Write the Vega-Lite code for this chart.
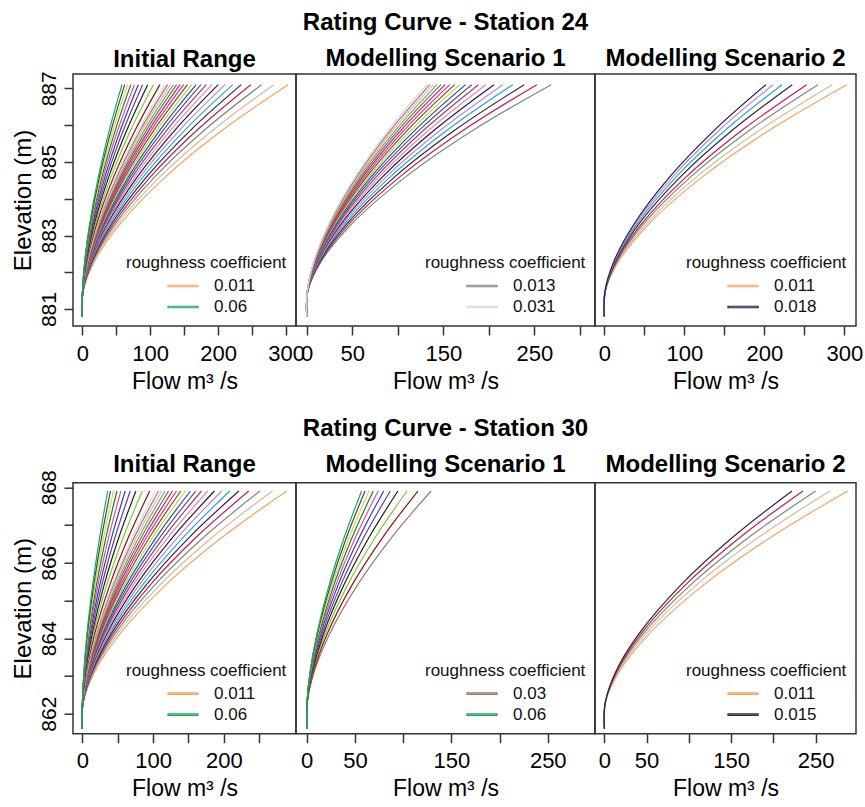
{
"$schema":"https://vega.github.io/schema/vega-lite/v6.json",
"padding":{"left":10,"top":9,"right":5,"bottom":5},
"columns":3,
"spacing":{"row":156.7,"column":0},
"bounds":"flush",
"resolve":{"legend":{"color":"independent"}},
"config":{
"font":"Liberation Sans",
"view":{"stroke":"#333","strokeWidth":1.5},
"range":{"category":["#F6A35C","#CDBBA7","#7E8A72","#C4195B","#2E2A2B","#27A4DD","#C585C2","#1F1D4F","#F08C84","#8A3FB0","#5A5A5A","#2548D0","#B2E02A","#8B4A1C","#D12FC9","#E0221F","#2C8C8A","#A39A3C","#F2A7C6","#A07868","#C8DFDA","#8E1111","#79CC2E","#1E1E1E","#6C3A9C","#2E3FBA","#E0558A","#1F7A3E","#C8DE3E","#3A4A4A","#1FA85E"]},
"axis":{"domain":false,"grid":false,"tickColor":"#333","tickWidth":1.5,"tickSize":9,"labelFont":"Liberation Sans","labelFontSize":22,"labelColor":"#000","titleFont":"Liberation Sans","titleFontSize":23,"titleFontWeight":"normal","titleColor":"#000","labelOverlap":false,"labelFlush":false},
"axisX":{"labelPadding":8,"titlePadding":6},
"axisY":{"labelAngle":-90,"labelAlign":"center","labelBaseline":"alphabetic","labelPadding":9,"labelFont":"Liberation Sans Narrow, Liberation Sans","labelFontSize":21,"titleFontSize":24,"titlePadding":3},
"title":{"font":"Liberation Sans","fontSize":24,"fontWeight":"bold","color":"#000","baseline":"alphabetic","lineHeight":36,"anchor":"middle","frame":"group"},
"legend":{"orient":"bottom-right","offset":9,"padding":0,"titleFont":"Liberation Sans","titleFontSize":17,"titleFontWeight":"normal","titleColor":"#111","titlePadding":4,"labelFont":"Liberation Sans","labelFontSize":17,"labelColor":"#111","symbolType":"M-1,-0.05H1V0.05H-1Z","symbolSize":900,"symbolStrokeWidth":1.5,"clipHeight":20,"rowPadding":1,"symbolOffset":41,"labelOffset":15},
"line":{"strokeWidth":1.2,"interpolate":"catmull-rom","clip":true}
},
"datasets":{
"a1":[
{"n":0.011,"q":0,"e":880.8},{"n":0.011,"q":1.5,"e":881.5},{"n":0.011,"q":18.2,"e":882.3},{"n":0.011,"q":55.1,"e":883.3},{"n":0.011,"q":123,"e":884.6},{"n":0.011,"q":209.1,"e":885.9},{"n":0.011,"q":303,"e":887.1},
{"n":0.012,"q":0,"e":880.8},{"n":0.012,"q":1.4,"e":881.5},{"n":0.012,"q":16.9,"e":882.3},{"n":0.012,"q":51.3,"e":883.3},{"n":0.012,"q":114.5,"e":884.6},{"n":0.012,"q":194.6,"e":885.9},{"n":0.012,"q":282.1,"e":887.1},
{"n":0.013,"q":0,"e":880.8},{"n":0.013,"q":1.3,"e":881.5},{"n":0.013,"q":15.8,"e":882.3},{"n":0.013,"q":48,"e":883.3},{"n":0.013,"q":107.1,"e":884.6},{"n":0.013,"q":182.1,"e":885.9},{"n":0.013,"q":263.9,"e":887.1},
{"n":0.014,"q":0,"e":880.8},{"n":0.014,"q":1.2,"e":881.5},{"n":0.014,"q":14.9,"e":882.3},{"n":0.014,"q":45.2,"e":883.3},{"n":0.014,"q":100.7,"e":884.6},{"n":0.014,"q":171.2,"e":885.9},{"n":0.014,"q":248.1,"e":887.1},
{"n":0.015,"q":0,"e":880.8},{"n":0.015,"q":1.2,"e":881.5},{"n":0.015,"q":14,"e":882.3},{"n":0.015,"q":42.6,"e":883.3},{"n":0.015,"q":95,"e":884.6},{"n":0.015,"q":161.5,"e":885.9},{"n":0.015,"q":234.1,"e":887.1},
{"n":0.016,"q":0,"e":880.8},{"n":0.016,"q":1.1,"e":881.5},{"n":0.016,"q":13.3,"e":882.3},{"n":0.016,"q":40.3,"e":883.3},{"n":0.016,"q":90,"e":884.6},{"n":0.016,"q":152.9,"e":885.9},{"n":0.016,"q":221.6,"e":887.1},
{"n":0.017,"q":0,"e":880.8},{"n":0.017,"q":1.1,"e":881.5},{"n":0.017,"q":12.6,"e":882.3},{"n":0.017,"q":38.3,"e":883.3},{"n":0.017,"q":85.4,"e":884.6},{"n":0.017,"q":145.1,"e":885.9},{"n":0.017,"q":210.3,"e":887.1},
{"n":0.018,"q":0,"e":880.8},{"n":0.018,"q":1,"e":881.5},{"n":0.018,"q":12,"e":882.3},{"n":0.018,"q":36.4,"e":883.3},{"n":0.018,"q":81.3,"e":884.6},{"n":0.018,"q":138.1,"e":885.9},{"n":0.018,"q":200.2,"e":887.1},
{"n":0.019,"q":0,"e":880.8},{"n":0.019,"q":1,"e":881.5},{"n":0.019,"q":11.5,"e":882.3},{"n":0.019,"q":34.8,"e":883.3},{"n":0.019,"q":77.5,"e":884.6},{"n":0.019,"q":131.8,"e":885.9},{"n":0.019,"q":191,"e":887.1},
{"n":0.02,"q":0,"e":880.8},{"n":0.02,"q":0.9,"e":881.5},{"n":0.02,"q":11,"e":882.3},{"n":0.02,"q":33.2,"e":883.3},{"n":0.02,"q":74.1,"e":884.6},{"n":0.02,"q":126,"e":885.9},{"n":0.02,"q":182.6,"e":887.1},
{"n":0.021,"q":0,"e":880.8},{"n":0.021,"q":0.9,"e":881.5},{"n":0.021,"q":10.5,"e":882.3},{"n":0.021,"q":31.8,"e":883.3},{"n":0.021,"q":71,"e":884.6},{"n":0.021,"q":120.6,"e":885.9},{"n":0.021,"q":174.8,"e":887.1},
{"n":0.022,"q":0,"e":880.8},{"n":0.022,"q":0.8,"e":881.5},{"n":0.022,"q":10.1,"e":882.3},{"n":0.022,"q":30.5,"e":883.3},{"n":0.022,"q":68.1,"e":884.6},{"n":0.022,"q":115.7,"e":885.9},{"n":0.022,"q":167.7,"e":887.1},
{"n":0.023,"q":0,"e":880.8},{"n":0.023,"q":0.8,"e":881.5},{"n":0.023,"q":9.7,"e":882.3},{"n":0.023,"q":29.3,"e":883.3},{"n":0.023,"q":65.4,"e":884.6},{"n":0.023,"q":111.2,"e":885.9},{"n":0.023,"q":161.1,"e":887.1},
{"n":0.024,"q":0,"e":880.8},{"n":0.024,"q":0.8,"e":881.5},{"n":0.024,"q":9.3,"e":882.3},{"n":0.024,"q":28.2,"e":883.3},{"n":0.024,"q":62.9,"e":884.6},{"n":0.024,"q":106.9,"e":885.9},{"n":0.024,"q":154.9,"e":887.1},
{"n":0.025,"q":0,"e":880.8},{"n":0.025,"q":0.7,"e":881.5},{"n":0.025,"q":9,"e":882.3},{"n":0.025,"q":27.2,"e":883.3},{"n":0.025,"q":60.6,"e":884.6},{"n":0.025,"q":102.9,"e":885.9},{"n":0.025,"q":149.2,"e":887.1},
{"n":0.026,"q":0,"e":880.8},{"n":0.026,"q":0.7,"e":881.5},{"n":0.026,"q":8.6,"e":882.3},{"n":0.026,"q":26.2,"e":883.3},{"n":0.026,"q":58.4,"e":884.6},{"n":0.026,"q":99.3,"e":885.9},{"n":0.026,"q":143.9,"e":887.1},
{"n":0.027,"q":0,"e":880.8},{"n":0.027,"q":0.7,"e":881.5},{"n":0.027,"q":8.3,"e":882.3},{"n":0.027,"q":25.3,"e":883.3},{"n":0.027,"q":56.4,"e":884.6},{"n":0.027,"q":95.8,"e":885.9},{"n":0.027,"q":138.9,"e":887.1},
{"n":0.028,"q":0,"e":880.8},{"n":0.028,"q":0.7,"e":881.5},{"n":0.028,"q":8.1,"e":882.3},{"n":0.028,"q":24.4,"e":883.3},{"n":0.028,"q":54.5,"e":884.6},{"n":0.028,"q":92.6,"e":885.9},{"n":0.028,"q":134.2,"e":887.1},
{"n":0.029,"q":0,"e":880.8},{"n":0.029,"q":0.6,"e":881.5},{"n":0.029,"q":7.8,"e":882.3},{"n":0.029,"q":23.6,"e":883.3},{"n":0.029,"q":52.7,"e":884.6},{"n":0.029,"q":89.5,"e":885.9},{"n":0.029,"q":129.7,"e":887.1},
{"n":0.03,"q":0,"e":880.8},{"n":0.03,"q":0.6,"e":881.5},{"n":0.03,"q":7.5,"e":882.3},{"n":0.03,"q":22.8,"e":883.3},{"n":0.03,"q":51,"e":884.6},{"n":0.03,"q":86.6,"e":885.9},{"n":0.03,"q":125.5,"e":887.1},
{"n":0.031,"q":0,"e":880.8},{"n":0.031,"q":0.6,"e":881.5},{"n":0.031,"q":7.3,"e":882.3},{"n":0.031,"q":22.1,"e":883.3},{"n":0.031,"q":49.4,"e":884.6},{"n":0.031,"q":83.9,"e":885.9},{"n":0.031,"q":121.6,"e":887.1},
{"n":0.033,"q":0,"e":880.8},{"n":0.033,"q":0.6,"e":881.5},{"n":0.033,"q":6.9,"e":882.3},{"n":0.033,"q":20.8,"e":883.3},{"n":0.033,"q":46.4,"e":884.6},{"n":0.033,"q":78.9,"e":885.9},{"n":0.033,"q":114.3,"e":887.1},
{"n":0.036,"q":0,"e":880.8},{"n":0.036,"q":0.5,"e":881.5},{"n":0.036,"q":6.3,"e":882.3},{"n":0.036,"q":19.1,"e":883.3},{"n":0.036,"q":42.5,"e":884.6},{"n":0.036,"q":72.2,"e":885.9},{"n":0.036,"q":104.7,"e":887.1},
{"n":0.039,"q":0,"e":880.8},{"n":0.039,"q":0.5,"e":881.5},{"n":0.039,"q":5.8,"e":882.3},{"n":0.039,"q":17.5,"e":883.3},{"n":0.039,"q":39.1,"e":884.6},{"n":0.039,"q":66.4,"e":885.9},{"n":0.039,"q":96.3,"e":887.1},
{"n":0.042,"q":0,"e":880.8},{"n":0.042,"q":0.4,"e":881.5},{"n":0.042,"q":5.3,"e":882.3},{"n":0.042,"q":16.2,"e":883.3},{"n":0.042,"q":36.1,"e":884.6},{"n":0.042,"q":61.3,"e":885.9},{"n":0.042,"q":88.9,"e":887.1},
{"n":0.045,"q":0,"e":880.8},{"n":0.045,"q":0.4,"e":881.5},{"n":0.045,"q":4.9,"e":882.3},{"n":0.045,"q":15,"e":883.3},{"n":0.045,"q":33.5,"e":884.6},{"n":0.045,"q":56.9,"e":885.9},{"n":0.045,"q":82.4,"e":887.1},
{"n":0.048,"q":0,"e":880.8},{"n":0.048,"q":0.4,"e":881.5},{"n":0.048,"q":4.6,"e":882.3},{"n":0.048,"q":13.9,"e":883.3},{"n":0.048,"q":31.1,"e":884.6},{"n":0.048,"q":52.9,"e":885.9},{"n":0.048,"q":76.6,"e":887.1},
{"n":0.051,"q":0,"e":880.8},{"n":0.051,"q":0.4,"e":881.5},{"n":0.051,"q":4.3,"e":882.3},{"n":0.051,"q":13,"e":883.3},{"n":0.051,"q":29,"e":884.6},{"n":0.051,"q":49.3,"e":885.9},{"n":0.051,"q":71.4,"e":887.1},
{"n":0.054,"q":0,"e":880.8},{"n":0.054,"q":0.3,"e":881.5},{"n":0.054,"q":4,"e":882.3},{"n":0.054,"q":12.1,"e":883.3},{"n":0.054,"q":27.1,"e":884.6},{"n":0.054,"q":46,"e":885.9},{"n":0.054,"q":66.7,"e":887.1},
{"n":0.057,"q":0,"e":880.8},{"n":0.057,"q":0.3,"e":881.5},{"n":0.057,"q":3.7,"e":882.3},{"n":0.057,"q":11.4,"e":883.3},{"n":0.057,"q":25.3,"e":884.6},{"n":0.057,"q":43.1,"e":885.9},{"n":0.057,"q":62.4,"e":887.1},
{"n":0.06,"q":0,"e":880.8},{"n":0.06,"q":0.3,"e":881.5},{"n":0.06,"q":3.5,"e":882.3},{"n":0.06,"q":10.6,"e":883.3},{"n":0.06,"q":23.7,"e":884.6},{"n":0.06,"q":40.3,"e":885.9},{"n":0.06,"q":58.4,"e":887.1}
],
"a2":[
{"n":0.013,"q":0,"e":880.8},{"n":0.013,"q":1.3,"e":881.5},{"n":0.013,"q":16.1,"e":882.3},{"n":0.013,"q":48.9,"e":883.3},{"n":0.013,"q":109.1,"e":884.6},{"n":0.013,"q":185.3,"e":885.9},{"n":0.013,"q":268.6,"e":887.1},
{"n":0.014,"q":0,"e":880.8},{"n":0.014,"q":1.3,"e":881.5},{"n":0.014,"q":15.2,"e":882.3},{"n":0.014,"q":46,"e":883.3},{"n":0.014,"q":102.6,"e":884.6},{"n":0.014,"q":174.4,"e":885.9},{"n":0.014,"q":252.8,"e":887.1},
{"n":0.015,"q":0,"e":880.8},{"n":0.015,"q":1.2,"e":881.5},{"n":0.015,"q":14.3,"e":882.3},{"n":0.015,"q":43.5,"e":883.3},{"n":0.015,"q":97,"e":884.6},{"n":0.015,"q":164.8,"e":885.9},{"n":0.015,"q":238.9,"e":887.1},
{"n":0.016,"q":0,"e":880.8},{"n":0.016,"q":1.1,"e":881.5},{"n":0.016,"q":13.6,"e":882.3},{"n":0.016,"q":41.2,"e":883.3},{"n":0.016,"q":92,"e":884.6},{"n":0.016,"q":156.3,"e":885.9},{"n":0.016,"q":226.5,"e":887.1},
{"n":0.017,"q":0,"e":880.8},{"n":0.017,"q":1.1,"e":881.5},{"n":0.017,"q":12.9,"e":882.3},{"n":0.017,"q":39.2,"e":883.3},{"n":0.017,"q":87.5,"e":884.6},{"n":0.017,"q":148.8,"e":885.9},{"n":0.017,"q":215.6,"e":887.1},
{"n":0.018,"q":0,"e":880.8},{"n":0.018,"q":1,"e":881.5},{"n":0.018,"q":12.3,"e":882.3},{"n":0.018,"q":37.4,"e":883.3},{"n":0.018,"q":83.5,"e":884.6},{"n":0.018,"q":141.9,"e":885.9},{"n":0.018,"q":205.7,"e":887.1},
{"n":0.019,"q":0,"e":880.8},{"n":0.019,"q":1,"e":881.5},{"n":0.019,"q":11.8,"e":882.3},{"n":0.019,"q":35.8,"e":883.3},{"n":0.019,"q":79.9,"e":884.6},{"n":0.019,"q":135.8,"e":885.9},{"n":0.019,"q":196.8,"e":887.1},
{"n":0.02,"q":0,"e":880.8},{"n":0.02,"q":0.9,"e":881.5},{"n":0.02,"q":11.3,"e":882.3},{"n":0.02,"q":34.3,"e":883.3},{"n":0.02,"q":76.6,"e":884.6},{"n":0.02,"q":130.2,"e":885.9},{"n":0.02,"q":188.7,"e":887.1},
{"n":0.021,"q":0,"e":880.8},{"n":0.021,"q":0.9,"e":881.5},{"n":0.021,"q":10.9,"e":882.3},{"n":0.021,"q":33,"e":883.3},{"n":0.021,"q":73.6,"e":884.6},{"n":0.021,"q":125.1,"e":885.9},{"n":0.021,"q":181.3,"e":887.1},
{"n":0.022,"q":0,"e":880.8},{"n":0.022,"q":0.9,"e":881.5},{"n":0.022,"q":10.5,"e":882.3},{"n":0.022,"q":31.8,"e":883.3},{"n":0.022,"q":70.8,"e":884.6},{"n":0.022,"q":120.4,"e":885.9},{"n":0.022,"q":174.5,"e":887.1},
{"n":0.023,"q":0,"e":880.8},{"n":0.023,"q":0.8,"e":881.5},{"n":0.023,"q":10.1,"e":882.3},{"n":0.023,"q":30.6,"e":883.3},{"n":0.023,"q":68.3,"e":884.6},{"n":0.023,"q":116.1,"e":885.9},{"n":0.023,"q":168.3,"e":887.1},
{"n":0.024,"q":0,"e":880.8},{"n":0.024,"q":0.8,"e":881.5},{"n":0.024,"q":9.8,"e":882.3},{"n":0.024,"q":29.6,"e":883.3},{"n":0.024,"q":66,"e":884.6},{"n":0.024,"q":112.1,"e":885.9},{"n":0.024,"q":162.5,"e":887.1},
{"n":0.025,"q":0,"e":880.8},{"n":0.025,"q":0.8,"e":881.5},{"n":0.025,"q":9.4,"e":882.3},{"n":0.025,"q":28.6,"e":883.3},{"n":0.025,"q":63.8,"e":884.6},{"n":0.025,"q":108.4,"e":885.9},{"n":0.025,"q":157.1,"e":887.1},
{"n":0.026,"q":0,"e":880.8},{"n":0.026,"q":0.8,"e":881.5},{"n":0.026,"q":9.1,"e":882.3},{"n":0.026,"q":27.7,"e":883.3},{"n":0.026,"q":61.8,"e":884.6},{"n":0.026,"q":104.9,"e":885.9},{"n":0.026,"q":152.1,"e":887.1},
{"n":0.027,"q":0,"e":880.8},{"n":0.027,"q":0.7,"e":881.5},{"n":0.027,"q":8.9,"e":882.3},{"n":0.027,"q":26.8,"e":883.3},{"n":0.027,"q":59.9,"e":884.6},{"n":0.027,"q":101.8,"e":885.9},{"n":0.027,"q":147.5,"e":887.1},
{"n":0.028,"q":0,"e":880.8},{"n":0.028,"q":0.7,"e":881.5},{"n":0.028,"q":8.6,"e":882.3},{"n":0.028,"q":26.1,"e":883.3},{"n":0.028,"q":58.1,"e":884.6},{"n":0.028,"q":98.8,"e":885.9},{"n":0.028,"q":143.2,"e":887.1},
{"n":0.029,"q":0,"e":880.8},{"n":0.029,"q":0.7,"e":881.5},{"n":0.029,"q":8.3,"e":882.3},{"n":0.029,"q":25.3,"e":883.3},{"n":0.029,"q":56.5,"e":884.6},{"n":0.029,"q":96,"e":885.9},{"n":0.029,"q":139.1,"e":887.1},
{"n":0.03,"q":0,"e":880.8},{"n":0.03,"q":0.7,"e":881.5},{"n":0.03,"q":8.1,"e":882.3},{"n":0.03,"q":24.6,"e":883.3},{"n":0.03,"q":54.9,"e":884.6},{"n":0.03,"q":93.4,"e":885.9},{"n":0.03,"q":135.3,"e":887.1},
{"n":0.031,"q":0,"e":880.8},{"n":0.031,"q":0.7,"e":881.5},{"n":0.031,"q":7.9,"e":882.3},{"n":0.031,"q":24,"e":883.3},{"n":0.031,"q":53.5,"e":884.6},{"n":0.031,"q":90.9,"e":885.9},{"n":0.031,"q":131.7,"e":887.1}
],
"a3":[
{"n":0.011,"q":0,"e":880.8},{"n":0.011,"q":1.5,"e":881.5},{"n":0.011,"q":18.2,"e":882.3},{"n":0.011,"q":55.1,"e":883.3},{"n":0.011,"q":123,"e":884.6},{"n":0.011,"q":209.1,"e":885.9},{"n":0.011,"q":303,"e":887.1},
{"n":0.012,"q":0,"e":880.8},{"n":0.012,"q":1.4,"e":881.5},{"n":0.012,"q":17.1,"e":882.3},{"n":0.012,"q":51.9,"e":883.3},{"n":0.012,"q":115.7,"e":884.6},{"n":0.012,"q":196.7,"e":885.9},{"n":0.012,"q":285,"e":887.1},
{"n":0.013,"q":0,"e":880.8},{"n":0.013,"q":1.3,"e":881.5},{"n":0.013,"q":16,"e":882.3},{"n":0.013,"q":48.6,"e":883.3},{"n":0.013,"q":108.4,"e":884.6},{"n":0.013,"q":184.2,"e":885.9},{"n":0.013,"q":267,"e":887.1},
{"n":0.014,"q":0,"e":880.8},{"n":0.014,"q":1.3,"e":881.5},{"n":0.014,"q":15.2,"e":882.3},{"n":0.014,"q":46,"e":883.3},{"n":0.014,"q":102.7,"e":884.6},{"n":0.014,"q":174.6,"e":885.9},{"n":0.014,"q":253,"e":887.1},
{"n":0.015,"q":0,"e":880.8},{"n":0.015,"q":1.2,"e":881.5},{"n":0.015,"q":14.1,"e":882.3},{"n":0.015,"q":42.8,"e":883.3},{"n":0.015,"q":95.4,"e":884.6},{"n":0.015,"q":162.2,"e":885.9},{"n":0.015,"q":235,"e":887.1},
{"n":0.016,"q":0,"e":880.8},{"n":0.016,"q":1.1,"e":881.5},{"n":0.016,"q":13.3,"e":882.3},{"n":0.016,"q":40.4,"e":883.3},{"n":0.016,"q":90.1,"e":884.6},{"n":0.016,"q":153.2,"e":885.9},{"n":0.016,"q":222,"e":887.1},
{"n":0.017,"q":0,"e":880.8},{"n":0.017,"q":1.1,"e":881.5},{"n":0.017,"q":12.7,"e":882.3},{"n":0.017,"q":38.4,"e":883.3},{"n":0.017,"q":85.7,"e":884.6},{"n":0.017,"q":145.6,"e":885.9},{"n":0.017,"q":211,"e":887.1},
{"n":0.018,"q":0,"e":880.8},{"n":0.018,"q":1,"e":881.5},{"n":0.018,"q":12.1,"e":882.3},{"n":0.018,"q":36.8,"e":883.3},{"n":0.018,"q":82,"e":884.6},{"n":0.018,"q":139.4,"e":885.9},{"n":0.018,"q":202,"e":887.1}
],
"b1":[
{"n":0.011,"q":0,"e":861.6},{"n":0.011,"q":1.4,"e":862.3},{"n":0.011,"q":17.3,"e":863.1},{"n":0.011,"q":52.6,"e":864.1},{"n":0.011,"q":117.3,"e":865.4},{"n":0.011,"q":199.4,"e":866.7},{"n":0.011,"q":289,"e":867.9},
{"n":0.012,"q":0,"e":861.6},{"n":0.012,"q":1.3,"e":862.3},{"n":0.012,"q":16.1,"e":863.1},{"n":0.012,"q":48.9,"e":864.1},{"n":0.012,"q":109.1,"e":865.4},{"n":0.012,"q":185.4,"e":866.7},{"n":0.012,"q":268.7,"e":867.9},
{"n":0.013,"q":0,"e":861.6},{"n":0.013,"q":1.3,"e":862.3},{"n":0.013,"q":15.1,"e":863.1},{"n":0.013,"q":45.7,"e":864.1},{"n":0.013,"q":101.9,"e":865.4},{"n":0.013,"q":173.1,"e":866.7},{"n":0.013,"q":250.9,"e":867.9},
{"n":0.014,"q":0,"e":861.6},{"n":0.014,"q":1.2,"e":862.3},{"n":0.014,"q":14.1,"e":863.1},{"n":0.014,"q":42.8,"e":864.1},{"n":0.014,"q":95.5,"e":865.4},{"n":0.014,"q":162.3,"e":866.7},{"n":0.014,"q":235.2,"e":867.9},
{"n":0.015,"q":0,"e":861.6},{"n":0.015,"q":1.1,"e":862.3},{"n":0.015,"q":13.3,"e":863.1},{"n":0.015,"q":40.2,"e":864.1},{"n":0.015,"q":89.8,"e":865.4},{"n":0.015,"q":152.6,"e":866.7},{"n":0.015,"q":221.1,"e":867.9},
{"n":0.016,"q":0,"e":861.6},{"n":0.016,"q":1,"e":862.3},{"n":0.016,"q":12.5,"e":863.1},{"n":0.016,"q":37.9,"e":864.1},{"n":0.016,"q":84.7,"e":865.4},{"n":0.016,"q":143.9,"e":866.7},{"n":0.016,"q":208.5,"e":867.9},
{"n":0.017,"q":0,"e":861.6},{"n":0.017,"q":1,"e":862.3},{"n":0.017,"q":11.8,"e":863.1},{"n":0.017,"q":35.9,"e":864.1},{"n":0.017,"q":80,"e":865.4},{"n":0.017,"q":136,"e":866.7},{"n":0.017,"q":197.1,"e":867.9},
{"n":0.018,"q":0,"e":861.6},{"n":0.018,"q":0.9,"e":862.3},{"n":0.018,"q":11.2,"e":863.1},{"n":0.018,"q":34,"e":864.1},{"n":0.018,"q":75.8,"e":865.4},{"n":0.018,"q":128.8,"e":866.7},{"n":0.018,"q":186.7,"e":867.9},
{"n":0.019,"q":0,"e":861.6},{"n":0.019,"q":0.9,"e":862.3},{"n":0.019,"q":10.6,"e":863.1},{"n":0.019,"q":32.3,"e":864.1},{"n":0.019,"q":71.9,"e":865.4},{"n":0.019,"q":122.3,"e":866.7},{"n":0.019,"q":177.2,"e":867.9},
{"n":0.02,"q":0,"e":861.6},{"n":0.02,"q":0.8,"e":862.3},{"n":0.02,"q":10.1,"e":863.1},{"n":0.02,"q":30.6,"e":864.1},{"n":0.02,"q":68.4,"e":865.4},{"n":0.02,"q":116.2,"e":866.7},{"n":0.02,"q":168.4,"e":867.9},
{"n":0.021,"q":0,"e":861.6},{"n":0.021,"q":0.8,"e":862.3},{"n":0.021,"q":9.6,"e":863.1},{"n":0.021,"q":29.2,"e":864.1},{"n":0.021,"q":65.1,"e":865.4},{"n":0.021,"q":110.6,"e":866.7},{"n":0.021,"q":160.3,"e":867.9},
{"n":0.022,"q":0,"e":861.6},{"n":0.022,"q":0.8,"e":862.3},{"n":0.022,"q":9.2,"e":863.1},{"n":0.022,"q":27.8,"e":864.1},{"n":0.022,"q":62,"e":865.4},{"n":0.022,"q":105.4,"e":866.7},{"n":0.022,"q":152.8,"e":867.9},
{"n":0.023,"q":0,"e":861.6},{"n":0.023,"q":0.7,"e":862.3},{"n":0.023,"q":8.7,"e":863.1},{"n":0.023,"q":26.5,"e":864.1},{"n":0.023,"q":59.2,"e":865.4},{"n":0.023,"q":100.5,"e":866.7},{"n":0.023,"q":145.7,"e":867.9},
{"n":0.024,"q":0,"e":861.6},{"n":0.024,"q":0.7,"e":862.3},{"n":0.024,"q":8.4,"e":863.1},{"n":0.024,"q":25.3,"e":864.1},{"n":0.024,"q":56.5,"e":865.4},{"n":0.024,"q":96,"e":866.7},{"n":0.024,"q":139.2,"e":867.9},
{"n":0.025,"q":0,"e":861.6},{"n":0.025,"q":0.7,"e":862.3},{"n":0.025,"q":8,"e":863.1},{"n":0.025,"q":24.2,"e":864.1},{"n":0.025,"q":54,"e":865.4},{"n":0.025,"q":91.8,"e":866.7},{"n":0.025,"q":133.1,"e":867.9},
{"n":0.026,"q":0,"e":861.6},{"n":0.026,"q":0.6,"e":862.3},{"n":0.026,"q":7.6,"e":863.1},{"n":0.026,"q":23.2,"e":864.1},{"n":0.026,"q":51.7,"e":865.4},{"n":0.026,"q":87.9,"e":866.7},{"n":0.026,"q":127.4,"e":867.9},
{"n":0.027,"q":0,"e":861.6},{"n":0.027,"q":0.6,"e":862.3},{"n":0.027,"q":7.3,"e":863.1},{"n":0.027,"q":22.2,"e":864.1},{"n":0.027,"q":49.5,"e":865.4},{"n":0.027,"q":84.2,"e":866.7},{"n":0.027,"q":122,"e":867.9},
{"n":0.028,"q":0,"e":861.6},{"n":0.028,"q":0.6,"e":862.3},{"n":0.028,"q":7,"e":863.1},{"n":0.028,"q":21.3,"e":864.1},{"n":0.028,"q":47.5,"e":865.4},{"n":0.028,"q":80.7,"e":866.7},{"n":0.028,"q":116.9,"e":867.9},
{"n":0.029,"q":0,"e":861.6},{"n":0.029,"q":0.6,"e":862.3},{"n":0.029,"q":6.7,"e":863.1},{"n":0.029,"q":20.4,"e":864.1},{"n":0.029,"q":45.5,"e":865.4},{"n":0.029,"q":77.3,"e":866.7},{"n":0.029,"q":112.1,"e":867.9},
{"n":0.03,"q":0,"e":861.6},{"n":0.03,"q":0.5,"e":862.3},{"n":0.03,"q":6.5,"e":863.1},{"n":0.03,"q":19.6,"e":864.1},{"n":0.03,"q":43.7,"e":865.4},{"n":0.03,"q":74.2,"e":866.7},{"n":0.03,"q":107.6,"e":867.9},
{"n":0.031,"q":0,"e":861.6},{"n":0.031,"q":0.5,"e":862.3},{"n":0.031,"q":6.2,"e":863.1},{"n":0.031,"q":18.8,"e":864.1},{"n":0.031,"q":41.9,"e":865.4},{"n":0.031,"q":71.3,"e":866.7},{"n":0.031,"q":103.3,"e":867.9},
{"n":0.033,"q":0,"e":861.6},{"n":0.033,"q":0.5,"e":862.3},{"n":0.033,"q":5.7,"e":863.1},{"n":0.033,"q":17.3,"e":864.1},{"n":0.033,"q":38.7,"e":865.4},{"n":0.033,"q":65.8,"e":866.7},{"n":0.033,"q":95.3,"e":867.9},
{"n":0.036,"q":0,"e":861.6},{"n":0.036,"q":0.4,"e":862.3},{"n":0.036,"q":5.1,"e":863.1},{"n":0.036,"q":15.4,"e":864.1},{"n":0.036,"q":34.4,"e":865.4},{"n":0.036,"q":58.5,"e":866.7},{"n":0.036,"q":84.8,"e":867.9},
{"n":0.039,"q":0,"e":861.6},{"n":0.039,"q":0.4,"e":862.3},{"n":0.039,"q":4.5,"e":863.1},{"n":0.039,"q":13.8,"e":864.1},{"n":0.039,"q":30.7,"e":865.4},{"n":0.039,"q":52.2,"e":866.7},{"n":0.039,"q":75.7,"e":867.9},
{"n":0.042,"q":0,"e":861.6},{"n":0.042,"q":0.3,"e":862.3},{"n":0.042,"q":4.1,"e":863.1},{"n":0.042,"q":12.3,"e":864.1},{"n":0.042,"q":27.5,"e":865.4},{"n":0.042,"q":46.7,"e":866.7},{"n":0.042,"q":67.7,"e":867.9},
{"n":0.045,"q":0,"e":861.6},{"n":0.045,"q":0.3,"e":862.3},{"n":0.045,"q":3.6,"e":863.1},{"n":0.045,"q":11,"e":864.1},{"n":0.045,"q":24.6,"e":865.4},{"n":0.045,"q":41.9,"e":866.7},{"n":0.045,"q":60.7,"e":867.9},
{"n":0.048,"q":0,"e":861.6},{"n":0.048,"q":0.3,"e":862.3},{"n":0.048,"q":3.3,"e":863.1},{"n":0.048,"q":9.9,"e":864.1},{"n":0.048,"q":22.1,"e":865.4},{"n":0.048,"q":37.6,"e":866.7},{"n":0.048,"q":54.5,"e":867.9},
{"n":0.051,"q":0,"e":861.6},{"n":0.051,"q":0.2,"e":862.3},{"n":0.051,"q":2.9,"e":863.1},{"n":0.051,"q":8.9,"e":864.1},{"n":0.051,"q":19.9,"e":865.4},{"n":0.051,"q":33.8,"e":866.7},{"n":0.051,"q":49,"e":867.9},
{"n":0.054,"q":0,"e":861.6},{"n":0.054,"q":0.2,"e":862.3},{"n":0.054,"q":2.6,"e":863.1},{"n":0.054,"q":8,"e":864.1},{"n":0.054,"q":17.9,"e":865.4},{"n":0.054,"q":30.4,"e":866.7},{"n":0.054,"q":44.1,"e":867.9},
{"n":0.057,"q":0,"e":861.6},{"n":0.057,"q":0.2,"e":862.3},{"n":0.057,"q":2.4,"e":863.1},{"n":0.057,"q":7.2,"e":864.1},{"n":0.057,"q":16.2,"e":865.4},{"n":0.057,"q":27.5,"e":866.7},{"n":0.057,"q":39.8,"e":867.9},
{"n":0.06,"q":0,"e":861.6},{"n":0.06,"q":0.2,"e":862.3},{"n":0.06,"q":2.2,"e":863.1},{"n":0.06,"q":6.5,"e":864.1},{"n":0.06,"q":14.6,"e":865.4},{"n":0.06,"q":24.8,"e":866.7},{"n":0.06,"q":35.9,"e":867.9}
],
"b2":[
{"n":0.03,"q":0,"e":861.6},{"n":0.03,"q":0.6,"e":862.3},{"n":0.03,"q":7.7,"e":863.1},{"n":0.03,"q":23.5,"e":864.1},{"n":0.03,"q":52.4,"e":865.4},{"n":0.03,"q":89,"e":866.7},{"n":0.03,"q":129,"e":867.9},
{"n":0.033,"q":0,"e":861.6},{"n":0.033,"q":0.6,"e":862.3},{"n":0.033,"q":6.9,"e":863.1},{"n":0.033,"q":21,"e":864.1},{"n":0.033,"q":46.8,"e":865.4},{"n":0.033,"q":79.6,"e":866.7},{"n":0.033,"q":115.3,"e":867.9},
{"n":0.036,"q":0,"e":861.6},{"n":0.036,"q":0.5,"e":862.3},{"n":0.036,"q":6.2,"e":863.1},{"n":0.036,"q":18.9,"e":864.1},{"n":0.036,"q":42.2,"e":865.4},{"n":0.036,"q":71.8,"e":866.7},{"n":0.036,"q":104,"e":867.9},
{"n":0.039,"q":0,"e":861.6},{"n":0.039,"q":0.5,"e":862.3},{"n":0.039,"q":5.7,"e":863.1},{"n":0.039,"q":17.2,"e":864.1},{"n":0.039,"q":38.4,"e":865.4},{"n":0.039,"q":65.3,"e":866.7},{"n":0.039,"q":94.6,"e":867.9},
{"n":0.042,"q":0,"e":861.6},{"n":0.042,"q":0.4,"e":862.3},{"n":0.042,"q":5.2,"e":863.1},{"n":0.042,"q":15.8,"e":864.1},{"n":0.042,"q":35.2,"e":865.4},{"n":0.042,"q":59.8,"e":866.7},{"n":0.042,"q":86.7,"e":867.9},
{"n":0.045,"q":0,"e":861.6},{"n":0.045,"q":0.4,"e":862.3},{"n":0.045,"q":4.8,"e":863.1},{"n":0.045,"q":14.5,"e":864.1},{"n":0.045,"q":32.4,"e":865.4},{"n":0.045,"q":55.1,"e":866.7},{"n":0.045,"q":79.9,"e":867.9},
{"n":0.048,"q":0,"e":861.6},{"n":0.048,"q":0.4,"e":862.3},{"n":0.048,"q":4.4,"e":863.1},{"n":0.048,"q":13.5,"e":864.1},{"n":0.048,"q":30.1,"e":865.4},{"n":0.048,"q":51.1,"e":866.7},{"n":0.048,"q":74.1,"e":867.9},
{"n":0.051,"q":0,"e":861.6},{"n":0.051,"q":0.3,"e":862.3},{"n":0.051,"q":4.1,"e":863.1},{"n":0.051,"q":12.6,"e":864.1},{"n":0.051,"q":28,"e":865.4},{"n":0.051,"q":47.6,"e":866.7},{"n":0.051,"q":69,"e":867.9},
{"n":0.054,"q":0,"e":861.6},{"n":0.054,"q":0.3,"e":862.3},{"n":0.054,"q":3.9,"e":863.1},{"n":0.054,"q":11.7,"e":864.1},{"n":0.054,"q":26.2,"e":865.4},{"n":0.054,"q":44.5,"e":866.7},{"n":0.054,"q":64.5,"e":867.9},
{"n":0.057,"q":0,"e":861.6},{"n":0.057,"q":0.3,"e":862.3},{"n":0.057,"q":3.6,"e":863.1},{"n":0.057,"q":11,"e":864.1},{"n":0.057,"q":24.6,"e":865.4},{"n":0.057,"q":41.7,"e":866.7},{"n":0.057,"q":60.5,"e":867.9},
{"n":0.06,"q":0,"e":861.6},{"n":0.06,"q":0.3,"e":862.3},{"n":0.06,"q":3.4,"e":863.1},{"n":0.06,"q":10.4,"e":864.1},{"n":0.06,"q":23.1,"e":865.4},{"n":0.06,"q":39.3,"e":866.7},{"n":0.06,"q":56.9,"e":867.9}
],
"b3":[
{"n":0.011,"q":0,"e":861.6},{"n":0.011,"q":1.4,"e":862.3},{"n":0.011,"q":17.3,"e":863.1},{"n":0.011,"q":52.4,"e":864.1},{"n":0.011,"q":116.9,"e":865.4},{"n":0.011,"q":198.7,"e":866.7},{"n":0.011,"q":288,"e":867.9},
{"n":0.012,"q":0,"e":861.6},{"n":0.012,"q":1.3,"e":862.3},{"n":0.012,"q":16,"e":863.1},{"n":0.012,"q":48.6,"e":864.1},{"n":0.012,"q":108.4,"e":865.4},{"n":0.012,"q":184.2,"e":866.7},{"n":0.012,"q":267,"e":867.9},
{"n":0.013,"q":0,"e":861.6},{"n":0.013,"q":1.3,"e":862.3},{"n":0.013,"q":15,"e":863.1},{"n":0.013,"q":45.5,"e":864.1},{"n":0.013,"q":101.5,"e":865.4},{"n":0.013,"q":172.5,"e":866.7},{"n":0.013,"q":250,"e":867.9},
{"n":0.014,"q":0,"e":861.6},{"n":0.014,"q":1.2,"e":862.3},{"n":0.014,"q":14.1,"e":863.1},{"n":0.014,"q":42.8,"e":864.1},{"n":0.014,"q":95.4,"e":865.4},{"n":0.014,"q":162.2,"e":866.7},{"n":0.014,"q":235,"e":867.9},
{"n":0.015,"q":0,"e":861.6},{"n":0.015,"q":1.1,"e":862.3},{"n":0.015,"q":13.3,"e":863.1},{"n":0.015,"q":40.4,"e":864.1},{"n":0.015,"q":90.1,"e":865.4},{"n":0.015,"q":153.2,"e":866.7},{"n":0.015,"q":222,"e":867.9}
]
},
"concat":[
{"width":223,"height":252,"title":{"text":"Initial Range","offset":-0.7},"data":{"name":"a1"},"mark":"line",
"encoding":{
"x":{"field":"q","type":"quantitative","scale":{"domain":[-13.7,314.7],"nice":false,"zero":false},"axis":{"title":"Flow m³ /s","values":[0,50,100,150,200,250,300],"labelExpr":"datum.value % 100 === 0 ? datum.label : ''"}},
"y":{"field":"e","type":"quantitative","scale":{"domain":[880.54,887.39],"nice":false,"zero":false},"axis":{"title":"Elevation (m)","values":[881,882,883,884,885,886,887],"labelExpr":"datum.value % 2 === 1 ? datum.label : ''"}},
"color":{"field":"n","type":"nominal","legend":{"title":"roughness coefficient","values":[0.011,0.06]}},
"order":{"field":"e","type":"quantitative"}}},
{"width":299,"height":252,"title":{"text":["Rating Curve - Station 24","Modelling Scenario 1"],"offset":3.3},"data":{"name":"a2"},"mark":"line",
"encoding":{
"x":{"field":"q","type":"quantitative","scale":{"domain":[-11.8,316.7],"nice":false,"zero":false},"axis":{"title":"Flow m³ /s","values":[0,50,100,150,200,250,300],"labelExpr":"indexof([0,50,150,250], datum.value) >= 0 ? datum.label : ''"}},
"y":{"field":"e","type":"quantitative","scale":{"domain":[880.54,887.39],"nice":false,"zero":false},"axis":null},
"color":{"field":"n","type":"nominal","legend":{"title":"roughness coefficient","values":[0.013,0.031]}},
"order":{"field":"e","type":"quantitative"}}},
{"width":261,"height":252,"title":{"text":"Modelling Scenario 2","offset":3.3},"data":{"name":"a3"},"mark":"line",
"encoding":{
"x":{"field":"q","type":"quantitative","scale":{"domain":[-11.6,314.6],"nice":false,"zero":false},"axis":{"title":"Flow m³ /s","values":[0,50,100,150,200,250,300],"labelExpr":"datum.value % 100 === 0 ? datum.label : ''"}},
"y":{"field":"e","type":"quantitative","scale":{"domain":[880.54,887.39],"nice":false,"zero":false},"axis":null},
"color":{"field":"n","type":"nominal","legend":{"title":"roughness coefficient","values":[0.011,0.018]}},
"order":{"field":"e","type":"quantitative"}}},
{"width":223,"height":251,"title":{"text":"Initial Range","offset":-7.4},"data":{"name":"b1"},"mark":"line",
"encoding":{
"x":{"field":"q","type":"quantitative","scale":{"domain":[-13.1,301.9],"nice":false,"zero":false},"axis":{"title":"Flow m³ /s","values":[0,50,100,150,200,250],"labelExpr":"datum.value % 100 === 0 ? datum.label : ''"}},
"y":{"field":"e","type":"quantitative","scale":{"domain":[861.47,868.12],"nice":false,"zero":false},"axis":{"title":"Elevation (m)","values":[862,863,864,865,866,867,868],"labelExpr":"datum.value % 2 === 0 ? datum.label : ''"}},
"color":{"field":"n","type":"nominal","legend":{"title":"roughness coefficient","values":[0.011,0.06]}},
"order":{"field":"e","type":"quantitative"}}},
{"width":299,"height":251,"title":{"text":["Rating Curve - Station 30","Modelling Scenario 1"],"offset":5.6},"data":{"name":"b2"},"mark":"line",
"encoding":{
"x":{"field":"q","type":"quantitative","scale":{"domain":[-11.1,299],"nice":false,"zero":false},"axis":{"title":"Flow m³ /s","values":[0,50,100,150,200,250],"labelExpr":"indexof([0,50,150,250], datum.value) >= 0 ? datum.label : ''"}},
"y":{"field":"e","type":"quantitative","scale":{"domain":[861.47,868.12],"nice":false,"zero":false},"axis":null},
"color":{"field":"n","type":"nominal","legend":{"title":"roughness coefficient","values":[0.03,0.06]}},
"order":{"field":"e","type":"quantitative"}}},
{"width":261,"height":251,"title":{"text":"Modelling Scenario 2","offset":5.6},"data":{"name":"b3"},"mark":"line",
"encoding":{
"x":{"field":"q","type":"quantitative","scale":{"domain":[-11,297.7],"nice":false,"zero":false},"axis":{"title":"Flow m³ /s","values":[0,50,100,150,200,250],"labelExpr":"indexof([0,50,150,250], datum.value) >= 0 ? datum.label : ''"}},
"y":{"field":"e","type":"quantitative","scale":{"domain":[861.47,868.12],"nice":false,"zero":false},"axis":null},
"color":{"field":"n","type":"nominal","legend":{"title":"roughness coefficient","values":[0.011,0.015]}},
"order":{"field":"e","type":"quantitative"}}}
]
}
